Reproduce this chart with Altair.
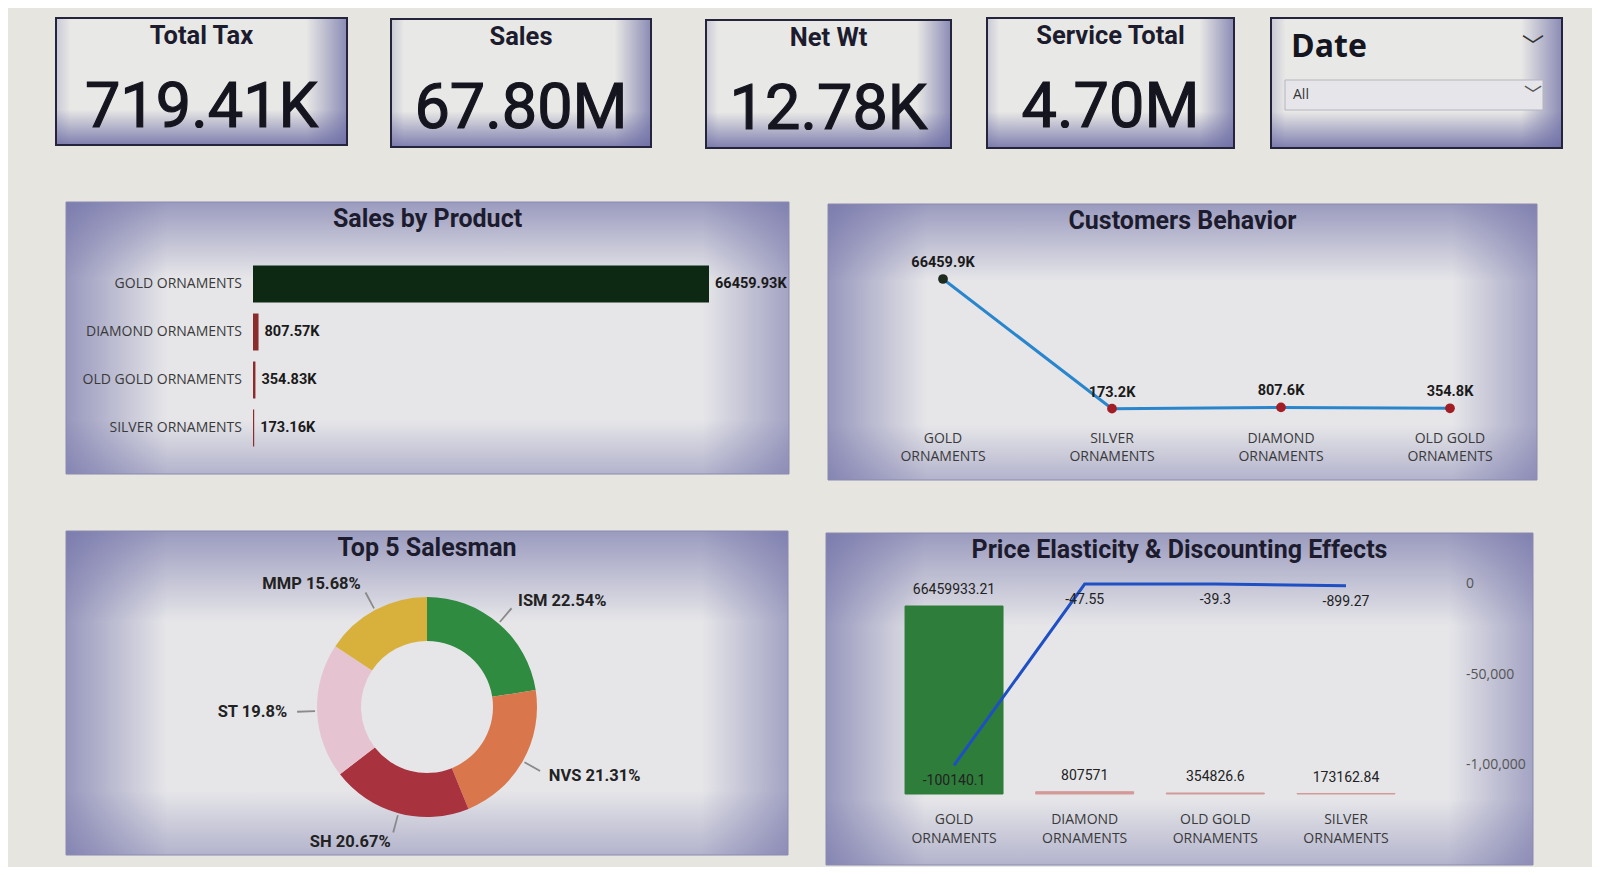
import math
import altair as alt
import pandas as pd

# ---------------- data ----------------
kpi_titles = ["Total Tax", "Sales", "Net Wt", "Service Total"]
kpi_values = ["719.41K", "67.80M", "12.78K", "4.70M"]
slicer_title = "Date"
slicer_value = "All"

panel_titles = ["Sales by Product", "Customers Behavior", "Top 5 Salesman",
                "Price Elasticity & Discounting Effects"]

bar_products = ["GOLD ORNAMENTS", "DIAMOND ORNAMENTS", "OLD GOLD ORNAMENTS", "SILVER ORNAMENTS"]
bar_sales_k = [66459.93, 807.57, 354.83, 173.16]

cust_products = ["GOLD ORNAMENTS", "SILVER ORNAMENTS", "DIAMOND ORNAMENTS", "OLD GOLD ORNAMENTS"]
cust_values_k = [66459.9, 173.2, 807.6, 354.8]

salesmen = ["ISM", "NVS", "SH", "ST", "MMP"]
salesman_pct = [22.54, 21.31, 20.67, 19.8, 15.68]

pe_products = ["GOLD ORNAMENTS", "DIAMOND ORNAMENTS", "OLD GOLD ORNAMENTS", "SILVER ORNAMENTS"]
pe_sales = [66459933.21, 807571, 354826.6, 173162.84]
pe_elasticity = [-100140.1, -47.55, -39.3, -899.27]
pe_axis_values = [0, -50000, -100000]
pe_axis_labels = ["0", "-50,000", "-1,00,000"]

# ---------------- styling ----------------
TITLE_FONT = "Roboto"
NUM_FONT = "Roboto"
CAT_FONT = "Open Sans"
DARK = "#1c1c2e"


def lin(vertical, stops):
    return {"gradient": "linear", "x1": 0, "y1": 0, "x2": 0 if vertical else 1, "y2": 1 if vertical else 0,
            "stops": [{"offset": o, "color": c} for o, c in stops]}


P = "rgba(108,108,165,{a})"
panel_v = lin(True, [(0, P.format(a=0.62)), (0.28, P.format(a=0.0)), (0.8, P.format(a=0.0)),
                     (1, P.format(a=0.42))])
panel_h = lin(False, [(0, P.format(a=0.65)), (0.14, P.format(a=0.0)), (0.88, P.format(a=0.0)),
                      (1, P.format(a=0.55))])
card_v = lin(True, [(0, P.format(a=0.0)), (0.72, P.format(a=0.0)), (1, P.format(a=0.85))])
card_h = lin(False, [(0, P.format(a=0.25)), (0.05, P.format(a=0.0)), (0.86, P.format(a=0.0)),
                     (1, P.format(a=0.75))])

ONE = alt.Data(values=[{}])


def box(x0, x1, y0, y1, fill, stroke=None, sw=0):
    mk = dict(fill=fill)
    if stroke:
        mk.update(stroke=stroke, strokeWidth=sw)
    return alt.Chart(ONE).mark_rect(**mk).encode(
        x=alt.value(x0), x2=alt.value(x1), y=alt.value(y0), y2=alt.value(y1))


def label(txt, x, y, **mk):
    return alt.Chart(alt.Data(values=[{"t": txt}])).mark_text(**mk).encode(
        x=alt.value(x), y=alt.value(y), text="t:N")


def card(x0, x1, y0, y1):
    return [box(x0, x1, y0, y1, "#e8e8e6"), box(x0, x1, y0, y1, card_v), box(x0, x1, y0, y1, card_h),
            box(x0, x1, y0, y1, "none", "#24243c", 2)]


def panel(x0, x1, y0, y1):
    return [box(x0, x1, y0, y1, "#e6e6e9"), box(x0, x1, y0, y1, panel_v), box(x0, x1, y0, y1, panel_h),
            box(x0, x1, y0, y1, "none", "#8a8ab0", 1)]


layers = []

# ---------------- KPI cards ----------------
cards = [(48, 339, 10, 137), (383, 643, 11, 139), (698, 943, 12, 140), (979, 1226, 10, 140)]
for (x0, x1, y0, y1), t, v in zip(cards, kpi_titles, kpi_values):
    cx = (x0 + x1) / 2
    layers += card(x0, x1, y0, y1)
    layers.append(label(t, cx, y0 + 18, font=TITLE_FONT, fontSize=25.5, fontWeight="bold", color=DARK))
    layers.append(label(v, cx, y0 + 90, font=NUM_FONT, fontSize=63, color="#15151f",
                        stroke="#15151f", strokeWidth=1.2))

# Date slicer
layers += card(1263, 1554, 10, 140)
layers.append(label(slicer_title, 1283, 39, font=CAT_FONT, fontSize=32, fontWeight="bold",
                    color="#15151f", align="left"))
layers.append(label("﹀", 1525, 38, font="Noto Sans CJK SC", fontSize=22, color="#333"))
layers.append(box(1277, 1535, 72, 102, "#e6e6ea", "#b4b4c0", 1))
layers.append(label(slicer_value, 1285, 87, font=CAT_FONT, fontSize=14, color="#333", align="left"))
layers.append(label("﹀", 1525, 88, font="Noto Sans CJK SC", fontSize=18, color="#555"))

# ---------------- panels ----------------
panels = [(58, 781, 194, 466), (820, 1529, 196, 472), (58, 780, 523, 847), (818, 1525, 525, 857)]
for (x0, x1, y0, y1), t in zip(panels, panel_titles):
    layers += panel(x0, x1, y0, y1)
    layers.append(label(t, (x0 + x1) / 2, y0 + 17, font=TITLE_FONT, fontSize=25,
                        fontWeight="bold", color=DARK))

# ---- Sales by Product ----
sp_df = pd.DataFrame({"p": bar_products, "v": bar_sales_k})
y_sp = alt.Y("p:N", sort=bar_products, axis=None,
             scale=alt.Scale(domain=bar_products, range=[252, 444], paddingInner=0.23, paddingOuter=0.115))
x_sp = alt.X("v:Q", axis=None, scale=alt.Scale(domain=[0, 66459.93], range=[245, 701], nice=False))
layers.append(alt.Chart(sp_df).mark_bar().encode(
    x=x_sp, y=y_sp,
    color=alt.Color("p:N", legend=None,
                    scale=alt.Scale(domain=bar_products, range=["#0d2914", "#8c2b2b", "#8c2b2b", "#8c2b2b"]))))
layers.append(alt.Chart(sp_df).transform_calculate(lbl="format(datum.v, '.2f') + 'K'").mark_text(
    align="left", dx=6, font=NUM_FONT, fontSize=14.5, fontWeight="bold", color="#1a1a1a").encode(
    x=x_sp, y=y_sp, text="lbl:N"))
layers.append(alt.Chart(sp_df).mark_text(align="right", font=CAT_FONT, fontSize=14, color="#3a3a3a").encode(
    x=alt.value(234), y=y_sp, text="p:N"))

# ---- Customers Behavior ----
cb_df = pd.DataFrame({"p": cust_products, "v": cust_values_k})
x_cb = alt.X("p:N", sort=cust_products, axis=None,
             scale=alt.Scale(type="point", domain=cust_products, range=[935, 1442], padding=0))
y_cb = alt.Y("v:Q", axis=None, scale=alt.Scale(domain=[0, 66459.9], range=[401, 271], nice=False))
layers.append(alt.Chart(cb_df).mark_line(color="#2a86cc", strokeWidth=3).encode(x=x_cb, y=y_cb))
layers.append(alt.Chart(cb_df).mark_circle(size=95, opacity=1).encode(
    x=x_cb, y=y_cb,
    color=alt.Color("p:N", legend=None,
                    scale=alt.Scale(domain=cust_products, range=["#1d2a1d", "#a31e24", "#a31e24", "#a31e24"]))))
layers.append(alt.Chart(cb_df).transform_calculate(lbl="format(datum.v, '.1f') + 'K'").mark_text(
    dy=-16, font=NUM_FONT, fontSize=14.5, fontWeight="bold", color="#1a1a1a").encode(
    x=x_cb, y=y_cb, text="lbl:N"))
layers.append(alt.Chart(cb_df).transform_calculate(
    lbl="replace(datum.p, ' ORNAMENTS', '\\nORNAMENTS')").mark_text(
    lineBreak="\n", lineHeight=18, font=CAT_FONT, fontSize=14, color="#3a3a3a").encode(
    x=x_cb, y=alt.value(431), text="lbl:N"))

# ---- Top 5 Salesman donut ----
CX, CY = 419, 699
ds_df = pd.DataFrame({"name": salesmen, "pct": salesman_pct, "idx": list(range(len(salesmen)))})
theta_scale = alt.Scale(domain=[0, 100], range=[0, 2 * math.pi])
donut_colors = ["#2e8b3f", "#d9764c", "#a8323d", "#e5c3d1", "#d8b03c"]
layers.append(alt.Chart(ds_df).mark_arc(innerRadius=66, outerRadius=110).encode(
    theta=alt.Theta("pct:Q", stack=True, scale=theta_scale),
    order=alt.Order("idx:Q"),
    color=alt.Color("name:N", legend=None, scale=alt.Scale(domain=salesmen, range=donut_colors)),
    x=alt.value(CX), y=alt.value(CY)))

ds_base = alt.Chart(ds_df).transform_window(
    cum="sum(pct)", sort=[alt.SortField("idx")], frame=[None, 0]
).transform_calculate(
    mid="datum.cum - datum.pct / 2", t1="datum.cum - datum.pct / 2 - 0.12",
    t2="datum.cum - datum.pct / 2 + 0.12",
    lbl="datum.name + ' ' + datum.pct + '%'")
layers.append(ds_base.mark_arc(radius=130, radius2=112, color="#8a8a8a").encode(
    theta=alt.Theta("t1:Q", stack=False, scale=theta_scale), theta2="t2:Q",
    x=alt.value(CX), y=alt.value(CY)))
for cond, al in [("datum.mid < 50", "left"), ("datum.mid >= 50", "right")]:
    layers.append(ds_base.transform_filter(cond).mark_text(
        radius=140, align=al, font=NUM_FONT, fontSize=16.5, fontWeight="bold", color="#222").encode(
        theta=alt.Theta("mid:Q", stack=False, scale=theta_scale), text="lbl:N",
        x=alt.value(CX), y=alt.value(CY)))

# ---- Price Elasticity & Discounting Effects ----
pe_df = pd.DataFrame({"p": pe_products, "s": pe_sales, "e": pe_elasticity})
x_pe = alt.X("p:N", sort=pe_products, axis=None,
             scale=alt.Scale(domain=pe_products, range=[880.7, 1403.3], paddingInner=0.25, paddingOuter=0.125))
y_bar = alt.Y("s:Q", axis=None, scale=alt.Scale(domain=[0, 66459933.21], range=[786, 598], nice=False))
y_line = alt.Y("e:Q", axis=None, scale=alt.Scale(domain=[-100000, 0], range=[757, 576], nice=False, zero=False))
pe_cols = alt.Scale(domain=pe_products, range=["#2f7d3a", "#d39a9a", "#d39a9a", "#d39a9a"])
layers.append(alt.Chart(pe_df).mark_bar(strokeWidth=1).encode(
    x=x_pe, y=y_bar,
    color=alt.Color("p:N", legend=None, scale=pe_cols),
    stroke=alt.Color("p:N", legend=None, scale=pe_cols)))
layers.append(alt.Chart(pe_df).transform_calculate(lbl="'' + datum.s").mark_text(
    dy=-16, font=NUM_FONT, fontSize=14, color="#222").encode(x=x_pe, y=y_bar, text="lbl:N"))
layers.append(alt.Chart(pe_df).mark_line(color="#1f4fc4", strokeWidth=3).encode(x=x_pe, y=y_line))
layers.append(alt.Chart(pe_df).transform_calculate(lbl="'' + datum.e").mark_text(
    dy=16, font=NUM_FONT, fontSize=14, color="#222").encode(x=x_pe, y=y_line, text="lbl:N"))
ax_df = pd.DataFrame({"e": pe_axis_values, "t": pe_axis_labels})
layers.append(alt.Chart(ax_df).mark_text(align="left", font=CAT_FONT, fontSize=14, color="#555").encode(
    x=alt.value(1458), y=y_line, text="t:N"))
layers.append(alt.Chart(pe_df).transform_calculate(
    lbl="replace(datum.p, ' ORNAMENTS', '\\nORNAMENTS')").mark_text(
    lineBreak="\n", lineHeight=19, font=CAT_FONT, fontSize=14, color="#3a3a3a").encode(
    x=x_pe, y=alt.value(812), text="lbl:N"))

chart = alt.layer(*layers).resolve_scale(
    x="independent", y="independent", color="independent", theta="independent", stroke="independent"
).properties(
    width=1584, height=859, autosize=alt.AutoSizeParams(type="none"), padding=0,
    background="#e6e5e0",
).configure_view(stroke=None)

chart.save("out.html", embed_options={"renderer": "svg", "actions": False})
